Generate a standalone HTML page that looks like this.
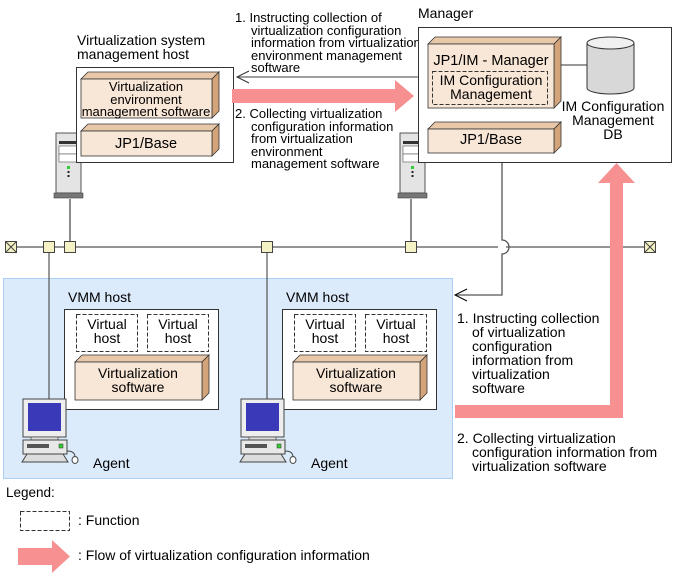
<!DOCTYPE html>
<html><head><meta charset="utf-8"><style>
html,body{margin:0;padding:0;background:#fff}
svg{display:block;font-family:"Liberation Sans",Arial,sans-serif;font-size:12.5px}
</style></head><body>
<svg width="675" height="576" viewBox="0 0 675 576" xmlns="http://www.w3.org/2000/svg">
<defs>
<g id="tower">
  <rect x="0" y="0" width="25" height="60" fill="#e4e4e4" stroke="#555" stroke-width="1"/>
  <rect x="3" y="8" width="19" height="3" fill="#333"/>
  <rect x="3" y="13" width="19" height="8" fill="#fff" stroke="#555" stroke-width="0.6"/>
  <rect x="3" y="21" width="19" height="8" fill="#fff" stroke="#555" stroke-width="0.6"/>
  <rect x="11" y="33" width="3" height="3" fill="#3c3"/>
  <rect x="11.5" y="38" width="2" height="2" fill="#222"/>
  <rect x="11.5" y="42" width="2" height="2" fill="#222"/>
  <rect x="-2" y="60" width="29" height="5" fill="#777" stroke="#444" stroke-width="0.6"/>
</g>
<g id="pc">
  <rect x="0" y="0" width="43" height="38" fill="#eee" stroke="#444"/>
  <rect x="5" y="4" width="33" height="28" fill="#3a3ab8"/>
  <rect x="8" y="38" width="27" height="3" fill="#ddd" stroke="#444" stroke-width="0.7"/>
  <rect x="0" y="41" width="44" height="14" fill="#e8e8e8" stroke="#444"/>
  <rect x="4" y="45" width="22" height="4" fill="#555"/>
  <rect x="36" y="45" width="4" height="4" fill="#3c3" stroke="#333" stroke-width="0.5"/>
  <path d="M4 55 L40 55 L45 63 L-1 63 Z" fill="#ddd" stroke="#444"/>
  <path d="M44 52 Q52 52 52 58" fill="none" stroke="#444"/>
  <ellipse cx="52" cy="61" rx="3" ry="3.5" fill="#fff" stroke="#444"/>
</g>
</defs>

<rect x="3.5" y="278.5" width="449" height="200" fill="#dcebfb" stroke="#a9d0f3"/>

<line x1="10" y1="247" x2="498" y2="247" stroke="#555" stroke-width="1.3"/>
<line x1="506" y1="247" x2="650" y2="247" stroke="#555" stroke-width="1.3"/>
<line x1="70" y1="199" x2="70" y2="247" stroke="#666" stroke-width="1.5"/>
<line x1="411" y1="199" x2="411" y2="247" stroke="#666" stroke-width="1.5"/>
<line x1="49" y1="247" x2="49" y2="399" stroke="#333" stroke-width="1"/>
<line x1="267" y1="247" x2="267" y2="399" stroke="#333" stroke-width="1"/>
<rect x="43.5" y="241.5" width="11" height="11" fill="#f4f2c4" stroke="#444"/>
<rect x="64.5" y="241.5" width="11" height="11" fill="#f4f2c4" stroke="#444"/>
<rect x="261.5" y="241.5" width="11" height="11" fill="#f4f2c4" stroke="#444"/>
<rect x="405.5" y="241.5" width="11" height="11" fill="#f4f2c4" stroke="#444"/>
<g stroke="#444" fill="#f4f2c4">
<rect x="5.5" y="241.5" width="11" height="11"/><path d="M5.5 241.5 L16.5 252.5 M16.5 241.5 L5.5 252.5" fill="none"/>
<rect x="644.5" y="241.5" width="11" height="11"/><path d="M644.5 241.5 L655.5 252.5 M655.5 241.5 L644.5 252.5" fill="none"/>
</g>

<path d="M502 162 L502 240 A7 7 0 0 1 502 254 L502 295 L456 295" fill="none" stroke="#555" stroke-width="1.3"/>
<path d="M467 289 L455 295 L467 301" fill="none" stroke="#000" stroke-width="1"/>

<use href="#tower" x="56" y="133"/>
<use href="#tower" x="400" y="133"/>

<text x="77" y="45" font-size="14">Virtualization system</text>
<text x="77" y="59" font-size="14">management host</text>
<rect x="76.5" y="67.5" width="157" height="95" fill="#fff" stroke="#333"/>
<g stroke="#333" stroke-width="0.8">
<path d="M81 79 L88 72 L219 72 L212 79 Z" fill="#e8c8a8"/>
<path d="M212 79 L219 72 L219 111 L212 118 Z" fill="#d3a47a"/>
<rect x="81" y="79" width="131" height="39" fill="#f8e6d6"/>
<path d="M81 131 L88 124 L219 124 L212 131 Z" fill="#e8c8a8"/>
<path d="M212 131 L219 124 L219 149 L212 156 Z" fill="#d3a47a"/>
<rect x="81" y="131" width="131" height="25" fill="#f8e6d6"/>
</g>
<text x="146" y="91" text-anchor="middle" font-size="13">Virtualization</text>
<text x="146" y="104" text-anchor="middle" font-size="13">environment</text>
<text x="146" y="116" text-anchor="middle" font-size="13">management software</text>
<text x="146" y="148" text-anchor="middle" font-size="14.5">JP1/Base</text>

<line x1="237" y1="77" x2="418" y2="77" stroke="#666" stroke-width="1.2"/>
<path d="M249 71 L237 77 L249 83" fill="none" stroke="#333" stroke-width="1"/>
<path d="M232 89 L395 89 L395 80 L414 96 L395 112 L395 103 L232 103 Z" fill="#f79191"/>
<g font-size="13">
<text x="235" y="22">1. Instructing collection of</text>
<text x="251" y="35">virtualization configuration</text>
<text x="251" y="47">information from virtualization</text>
<text x="251" y="60">environment management</text>
<text x="251" y="72">software</text>
<text x="235" y="118">2. Collecting virtualization</text>
<text x="251" y="131">configuration information</text>
<text x="251" y="143">from virtualization</text>
<text x="251" y="156">environment</text>
<text x="251" y="168">management software</text>
</g>

<text x="418" y="18" font-size="14">Manager</text>
<rect x="418.5" y="27.5" width="253" height="135" fill="#fff" stroke="#333"/>
<line x1="560" y1="65" x2="588" y2="65" stroke="#333"/>
<g stroke="#333" stroke-width="0.8">
<path d="M428 44 L435 37 L561 37 L554 44 Z" fill="#e8c8a8"/>
<path d="M554 44 L561 37 L561 101 L554 108 Z" fill="#d3a47a"/>
<rect x="428" y="44" width="126" height="64" fill="#f8e6d6"/>
<path d="M428 129 L435 122 L561 122 L554 129 Z" fill="#e8c8a8"/>
<path d="M554 129 L561 122 L561 146 L554 153 Z" fill="#d3a47a"/>
<rect x="428" y="129" width="126" height="24" fill="#f8e6d6"/>
</g>
<rect x="432.5" y="71.5" width="115" height="33" fill="none" stroke="#333" stroke-dasharray="4,2"/>
<text x="491" y="65" text-anchor="middle" font-size="14.5">JP1/IM - Manager</text>
<text x="491" y="85" text-anchor="middle" font-size="14">IM Configuration</text>
<text x="491" y="99" text-anchor="middle" font-size="14">Management</text>
<text x="491" y="144" text-anchor="middle" font-size="14.5">JP1/Base</text>
<path d="M587 43 L587 88 A23.5 6 0 0 0 634 88 L634 43" fill="#d8d8d8" stroke="#333"/>
<ellipse cx="610.5" cy="43" rx="23.5" ry="6" fill="#f0f0f0" stroke="#333"/>
<text x="613" y="111" text-anchor="middle" font-size="14">IM Configuration</text>
<text x="613" y="125" text-anchor="middle" font-size="14">Management</text>
<text x="613" y="139" text-anchor="middle" font-size="14">DB</text>

<path d="M455 405 L610 405 L610 183 L598 183 L616.5 163 L635 183 L623 183 L623 418 L455 418 Z" fill="#f79191"/>

<g font-size="14">
<text x="457" y="323">1. Instructing collection</text>
<text x="472" y="337">of virtualization</text>
<text x="472" y="351">configuration</text>
<text x="472" y="365">information from</text>
<text x="472" y="379">virtualization</text>
<text x="472" y="393">software</text>
<text x="457" y="443">2. Collecting virtualization</text>
<text x="472" y="457">configuration information from</text>
<text x="472" y="471">virtualization software</text>
</g>

<g id="vmm">
<text x="68" y="302" font-size="14">VMM host</text>
<rect x="64.5" y="309.5" width="154" height="100" fill="#fff" stroke="#333"/>
<rect x="76.5" y="314.5" width="61" height="37" fill="none" stroke="#333" stroke-dasharray="4,2"/>
<rect x="147.5" y="314.5" width="61" height="37" fill="none" stroke="#333" stroke-dasharray="4,2"/>
<text x="107" y="329" text-anchor="middle" font-size="14">Virtual</text>
<text x="107" y="343" text-anchor="middle" font-size="14">host</text>
<text x="178" y="329" text-anchor="middle" font-size="14">Virtual</text>
<text x="178" y="343" text-anchor="middle" font-size="14">host</text>
<g stroke="#333" stroke-width="0.8">
<path d="M75 362 L82 355 L209 355 L202 362 Z" fill="#e8c8a8"/>
<path d="M202 362 L209 355 L209 393 L202 400 Z" fill="#d3a47a"/>
<rect x="75" y="362" width="127" height="38" fill="#f8e6d6"/>
</g>
<text x="138" y="378" text-anchor="middle" font-size="14">Virtualization</text>
<text x="138" y="392" text-anchor="middle" font-size="14">software</text>
<use href="#pc" x="23" y="399"/>
<text x="93" y="468" font-size="14">Agent</text>
</g>
<use href="#vmm" x="218" y="0"/>

<text x="6" y="497" font-size="13.5">Legend:</text>
<rect x="20.5" y="511.5" width="49" height="19" fill="none" stroke="#333" stroke-dasharray="4,2"/>
<text x="78" y="525" font-size="14">: Function</text>
<path d="M18 548 L52 548 L52 540 L70 556.5 L52 573 L52 565 L18 565 Z" fill="#f79191"/>
<text x="78" y="560" font-size="14">: Flow of virtualization configuration information</text>
</svg>
</body></html>
